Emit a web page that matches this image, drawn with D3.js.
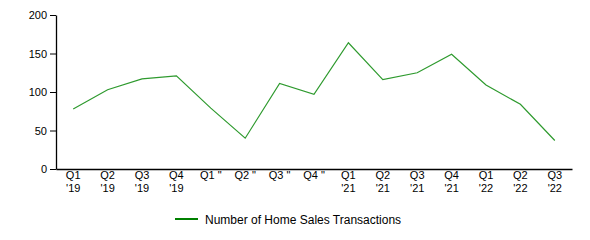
<!DOCTYPE html>
<html>
<head>
<meta charset="utf-8">
<script src="https://cdn.jsdelivr.net/npm/d3@7"></script>
<style>
  body { margin: 0; background: #fff; }
  text { font-family: Arial, "Liberation Sans", sans-serif; }
</style>
</head>
<body>
<div id="chart"></div>
<script>
// ------- Data -------
const quarters = ["Q1", "Q2", "Q3", "Q4", "Q1 \"", "Q2 \"", "Q3 \"", "Q4 \"",
  "Q1", "Q2", "Q3", "Q4", "Q1", "Q2", "Q3"];
const years = ["'19", "'19", "'19", "'19", "", "", "", "",
  "'21", "'21", "'21", "'21", "'22", "'22", "'22"];
const transactions = [78, 103, 117, 121, 79, 40, 111, 97, 164, 116, 125, 149, 109, 84, 37];
const yTicks = [0, 50, 100, 150, 200];
const seriesName = "Number of Home Sales Transactions";

// ------- Chart Setup -------
const margin = { top: 15, right: 18, bottom: 71, left: 56 };
const width = 590 - margin.left - margin.right;
const height = 240 - margin.top - margin.bottom;

const root = d3.select("#chart")
  .append("svg")
  .attr("width", 590)
  .attr("height", 240);

const svg = root.append("g")
  .attr("transform", `translate(${margin.left},${margin.top})`);

const idx = d3.range(transactions.length);

const x = d3.scaleBand()
  .domain(idx)
  .range([0, width])
  .padding(0);

const y = d3.scaleLinear()
  .domain([0, 200])
  .range([height, 0]);

// ------- Axes -------
const yAxis = svg.append("g")
  .call(d3.axisLeft(y).tickValues(yTicks).tickSizeOuter(0));
yAxis.selectAll("text").style("font-size", "11px").attr("fill", "#000");
yAxis.select(".domain").attr("stroke-width", 1.3);

const xAxis = svg.append("g")
  .attr("transform", `translate(0,${height})`)
  .call(d3.axisBottom(x).tickSize(0).tickSizeOuter(0).tickFormat(""));
xAxis.select(".domain").attr("stroke-width", 1.3);

// two-line quarter labels
xAxis.selectAll(".tick").each(function(i) {
  const t = d3.select(this).append("text")
    .attr("fill", "#000")
    .attr("text-anchor", "middle")
    .style("font-size", "11px")
    .attr("y", 10);
  t.append("tspan").attr("x", 0).text(quarters[i]);
  if (years[i]) t.append("tspan").attr("x", 0).attr("dy", 12.5).text(years[i]);
});

// ------- Line -------
const line = d3.line()
  .x((d, i) => x(i) + x.bandwidth() / 2)
  .y(d => y(d));

svg.append("path")
  .datum(transactions)
  .attr("fill", "none")
  .attr("stroke", "#2e9a2e")
  .attr("stroke-width", 1.2)
  .attr("d", line);

// ------- Legend -------
const legend = root.append("g")
  .attr("transform", "translate(175,219)");

legend.append("line")
  .attr("x1", 0).attr("x2", 23)
  .attr("y1", 0).attr("y2", 0)
  .attr("stroke", "green")
  .attr("stroke-width", 2);

legend.append("text")
  .attr("x", 30)
  .attr("y", 4.5)
  .style("font-size", "12px")
  .attr("fill", "#000")
  .text(seriesName);
</script>
</body>
</html>
